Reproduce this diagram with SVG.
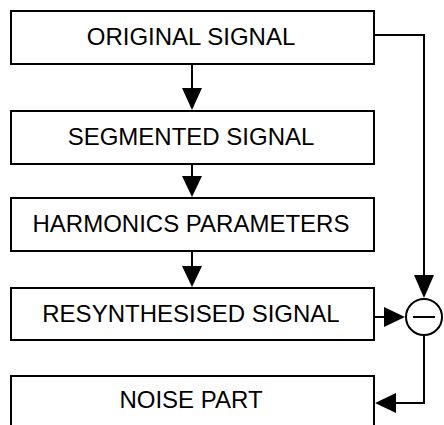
<svg xmlns="http://www.w3.org/2000/svg" width="444" height="425" viewBox="0 0 444 425">
<style>
.box{fill:#fff;stroke:#000;stroke-width:2}
.lbl{font-family:"Liberation Sans",Arial,sans-serif;font-size:24px;fill:#000;text-anchor:middle}
.ln{fill:none;stroke:#000;stroke-width:2}
.ah{fill:#000;stroke:none}
</style>
<rect width="444" height="425" fill="#fff"/>
<g id="original"><rect class="box" x="11" y="11" width="363" height="53"/><text class="lbl" x="191" y="45">ORIGINAL SIGNAL</text></g>
<g id="segmented"><rect class="box" x="11" y="111" width="363" height="53"/><text class="lbl" x="191" y="145">SEGMENTED SIGNAL</text></g>
<g id="harmonics"><rect class="box" x="11" y="198" width="363" height="53"/><text class="lbl" x="191" y="232">HARMONICS PARAMETERS</text></g>
<g id="resynth"><rect class="box" x="11" y="288" width="363" height="52"/><text class="lbl" x="191" y="322">RESYNTHESISED SIGNAL</text></g>
<g id="noise"><rect class="box" x="11" y="376" width="363" height="53"/><text class="lbl" x="191" y="408">NOISE PART</text></g>
<g id="subtract"><circle cx="424" cy="317" r="18" fill="#fff" stroke="#000" stroke-width="2"/><line x1="413" y1="317" x2="435" y2="317" stroke="#000" stroke-width="2"/></g>
<g id="connectors">
<line class="ln" x1="192" y1="64" x2="192" y2="90"/>
<polygon class="ah" points="182,88 202,88 192,110"/>
<line class="ln" x1="192" y1="164" x2="192" y2="178"/>
<polygon class="ah" points="182,176 202,176 192,197"/>
<line class="ln" x1="192" y1="251" x2="192" y2="268"/>
<polygon class="ah" points="182,266 202,266 192,287"/>
<polyline class="ln" points="374,35 424,35 424,278"/>
<polygon class="ah" points="414,275 434,275 424,298"/>
<line class="ln" x1="374" y1="317" x2="386" y2="317"/>
<polygon class="ah" points="384,307 384,327 405,317"/>
<polyline class="ln" points="424,335 424,403 393,403"/>
<polygon class="ah" points="396,393 396,413 375,403"/>
</g>
</svg>
